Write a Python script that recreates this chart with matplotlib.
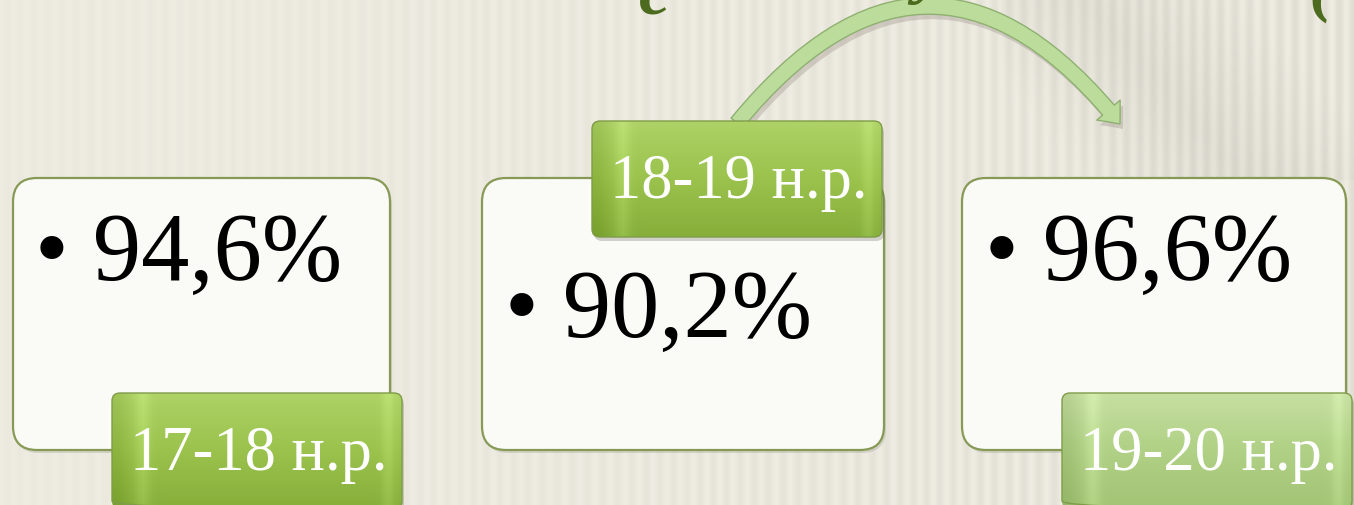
import numpy as np
import matplotlib
matplotlib.use("Agg")
import matplotlib.pyplot as plt
from matplotlib.patches import FancyBboxPatch, FancyArrowPatch
from matplotlib.path import Path

# data
years = ["17-18 н.р.", "18-19 н.р.", "19-20 н.р."]
values = [94.6, 90.2, 96.6]

W, H = 1354, 505
fig = plt.figure(figsize=(W / 100, H / 100), dpi=100)
ax = fig.add_axes([0, 0, 1, 1])
ax.set_xlim(0, W)
ax.set_ylim(H, 0)
ax.axis("off")

# striped beige background
xx = np.arange(W)
yy = np.arange(H)[:, None]
amp = 0.012 + 0.045 * (xx / W) ** 1.5
stripes = amp * np.sin(xx / 4.5 + 0.6 * np.sin(xx / 37.0)) ** 2
base = np.array([0.935, 0.925, 0.885])
img = base[None, None, :] - stripes[None, :, None] * np.ones((H, 1, 1))
# darker diagonal band at top right
band = np.clip(1 - np.abs((xx[None, :] - 1140) - (yy - 60) * 0.9) / 160, 0, 1)
band *= (yy < 180) * (xx[None, :] > 1000)
img = img - 0.04 * band[:, :, None]
ax.imshow(np.clip(img, 0, 1), extent=(0, W, H, 0), zorder=0, aspect="auto")

# partial title glyphs cut off at the top edge
for gx, gy, ch in [(655, 14, "с"), (930, -10, "у"), (1320, 8, "(")]:
    ax.text(gx, gy, ch, fontsize=52, color="#4d6b1e", family="Liberation Serif",
            style="italic", fontweight="bold", ha="center", va="baseline", zorder=6)


def grad_box(x, y, w, h, top, mid, bot, z):
    patch = FancyBboxPatch((x, y), w, h, boxstyle="round,pad=0,rounding_size=8",
                           facecolor="none", edgecolor="#7f9c48", lw=1.0, zorder=z + 0.2)
    ax.add_patch(patch)
    n = 100
    t = np.linspace(0, 1, n)[:, None]
    top, mid, bot = map(np.array, (top, mid, bot))
    col = np.where(t < 0.45, top + (mid - top) * (t / 0.45),
                   mid + (bot - mid) * ((t - 0.45) / 0.55))
    g = np.repeat(col[:, None, :], 60, axis=1)
    # bevel highlights near left and right edges
    u = np.linspace(0, 1, 60)
    edge = np.exp(-((u - 0.10) / 0.025) ** 2) + np.exp(-((u - 0.96) / 0.02) ** 2)
    dark = np.exp(-((u - 0.0) / 0.05) ** 2) * 0.7
    g = g + 0.06 * edge[None, :, None] - 0.08 * dark[None, :, None]
    im = ax.imshow(np.clip(g, 0, 1), extent=(x, x + w, y + h, y), aspect="auto",
                   zorder=z, interpolation="bilinear")
    im.set_clip_path(patch)
    # drop shadow
    sh = FancyBboxPatch((x + 2, y + 4), w, h, boxstyle="round,pad=0,rounding_size=8",
                        facecolor="#555544", edgecolor="none", alpha=0.25, zorder=z - 0.1)
    ax.add_patch(sh)


# white boxes
box_x = [13, 482, 962]
box_w = [377, 402, 384]
box_y, box_h = 178, 272
for bx, bw in zip(box_x, box_w):
    ax.add_patch(FancyBboxPatch((bx + 2, box_y + 3), bw, box_h,
                                boxstyle="round,pad=0,rounding_size=24",
                                facecolor="#888877", edgecolor="none", alpha=0.25, zorder=2))
    ax.add_patch(FancyBboxPatch((bx, box_y), bw, box_h,
                                boxstyle="round,pad=0,rounding_size=24",
                                facecolor="#fafaf7", edgecolor="#869a55", lw=1.6, zorder=3))

# value texts
val_pos = [(35, 280), (505, 337), (985, 280)]
for (vx, vy), v in zip(val_pos, values):
    ax.text(vx, vy, "• " + f"{v:.1f}".replace(".", ",") + "%", fontsize=69.5,
            family="Liberation Serif", color="black", ha="left", va="baseline", zorder=6)

# green year tabs
tab_pos = [(112, 393), (592, 121), (1062, 393)]
tab_w, tab_h = 290, 116
tab_cols = [
    ("#aed266", "#9cc44f", "#86ae3a"),
    ("#aed266", "#9cc44f", "#86ae3a"),
    ("#c6dfa2", "#b2d287", "#a2c475"),
]
for (tx, ty), (c1, c2, c3), lab in zip(tab_pos, tab_cols, years):
    cols = [matplotlib.colors.to_rgb(c) for c in (c1, c2, c3)]
    grad_box(tx, ty, tab_w, tab_h, *cols, z=7)
    ax.text(tx + tab_w / 2 + 2, ty + 77, lab, fontsize=45, family="Liberation Serif",
            color="white", ha="center", va="baseline", zorder=9)

# curved arrow from middle tab to the right box (quadratic bezier)
arc = Path([(737, 123), (930, -112), (1120, 124)],
           [Path.MOVETO, Path.CURVE3, Path.CURVE3])
style = "simple,head_length=1.0,head_width=1.7,tail_width=0.85"
shadow = FancyArrowPatch(path=Path(arc.vertices + [3, 5], arc.codes), arrowstyle=style,
                         mutation_scale=13, facecolor="#9a8f88", edgecolor="none",
                         alpha=0.35, zorder=5)
ax.add_patch(shadow)
arrow = FancyArrowPatch(path=arc, arrowstyle=style, mutation_scale=13,
                        facecolor="#bcdc9c", edgecolor="#8fb070", lw=1.0, zorder=5.5)
ax.add_patch(arrow)

fig.savefig("out.png", dpi=100)
